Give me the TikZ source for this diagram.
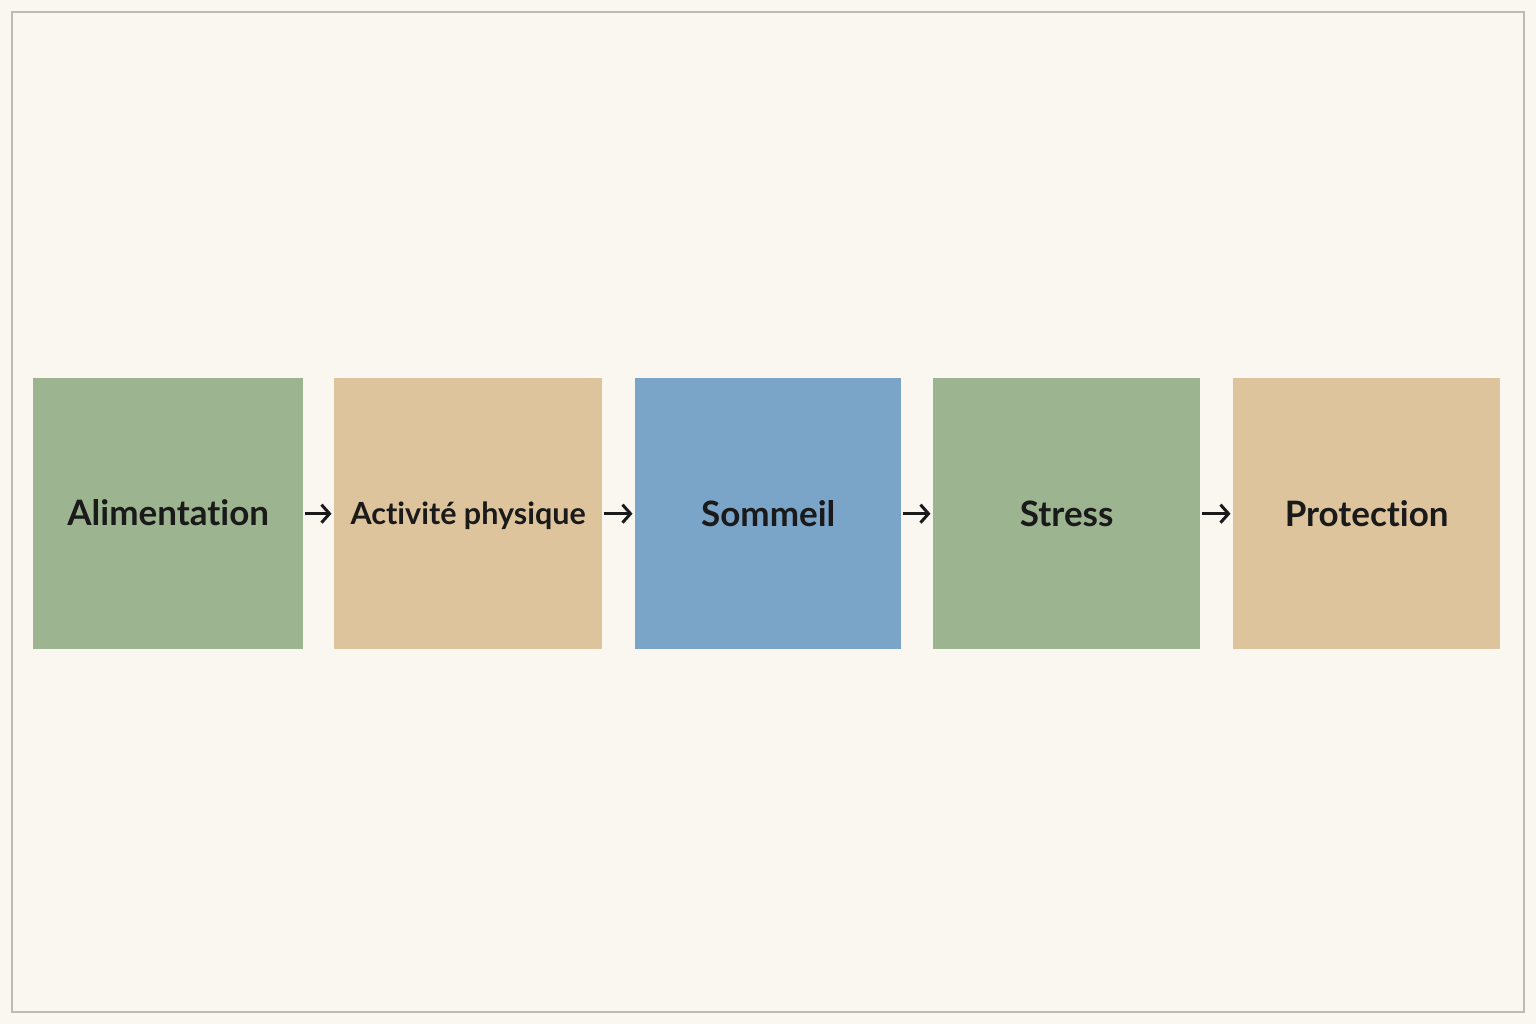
\documentclass[tikz,border=0pt]{standalone}
\usepackage{fontspec}
\setmainfont{Lato}[Ligatures={NoCommon}]
\usetikzlibrary{arrows.meta,calc}
\definecolor{bg}{HTML}{FAF7F0}
\definecolor{frame}{HTML}{BDBAB3}
\definecolor{cgreen}{HTML}{9DB490}
\definecolor{ctan}{HTML}{DEC49C}
\definecolor{cblue}{HTML}{7AA5C8}
\definecolor{ink}{HTML}{1A1A1A}
\begin{document}
\begin{tikzpicture}[x=1pt,y=-1pt,
  stepbox/.style={draw=none,minimum height=271pt,inner sep=0pt,anchor=north west},
  label/.style={font=\bfseries\fontsize{35}{42}\selectfont,text=ink,inner sep=0pt,anchor=base},
  link/.style={-{Straight Barb[length=8pt,width=18pt,line width=3pt]},line width=3pt,ink,shorten <=1.5pt,shorten >=2.5pt}]
\fill[bg] (0,0) rectangle (1536,1024);
\useasboundingbox (0,0) rectangle (1536,1024);
\draw[frame,line width=1.2pt] (12,12) rectangle (1524,1012);
\node[stepbox,fill=cgreen,minimum width=270pt] (a) at (33,378) {};
\node[stepbox,fill=ctan,minimum width=268pt] (b) at (334,378) {};
\node[stepbox,fill=cblue,minimum width=266pt] (c) at (635,378) {};
\node[stepbox,fill=cgreen,minimum width=267pt] (d) at (933,378) {};
\node[stepbox,fill=ctan,minimum width=267pt] (e) at (1233,378) {};
\node[label] (ta) at ($(a.center)+(0,12)$) {Alimentation};
\node[label,font=\bfseries\fontsize{30.5}{36}\selectfont] (tb) at ($(b.center)+(0,11)$) {Activité physique};
\node[label] (tc) at ($(c.center)+(0,13)$) {Sommeil};
\node[label] (td) at ($(d.center)+(0,13)$) {Stress};
\node[label] (te) at ($(e.center)+(0,13)$) {Protection};
\draw[link] (a.east) -- (b.west);
\draw[link] (b.east) -- (c.west);
\draw[link] (c.east) -- (d.west);
\draw[link] (d.east) -- (e.west);
\end{tikzpicture}
\end{document}
